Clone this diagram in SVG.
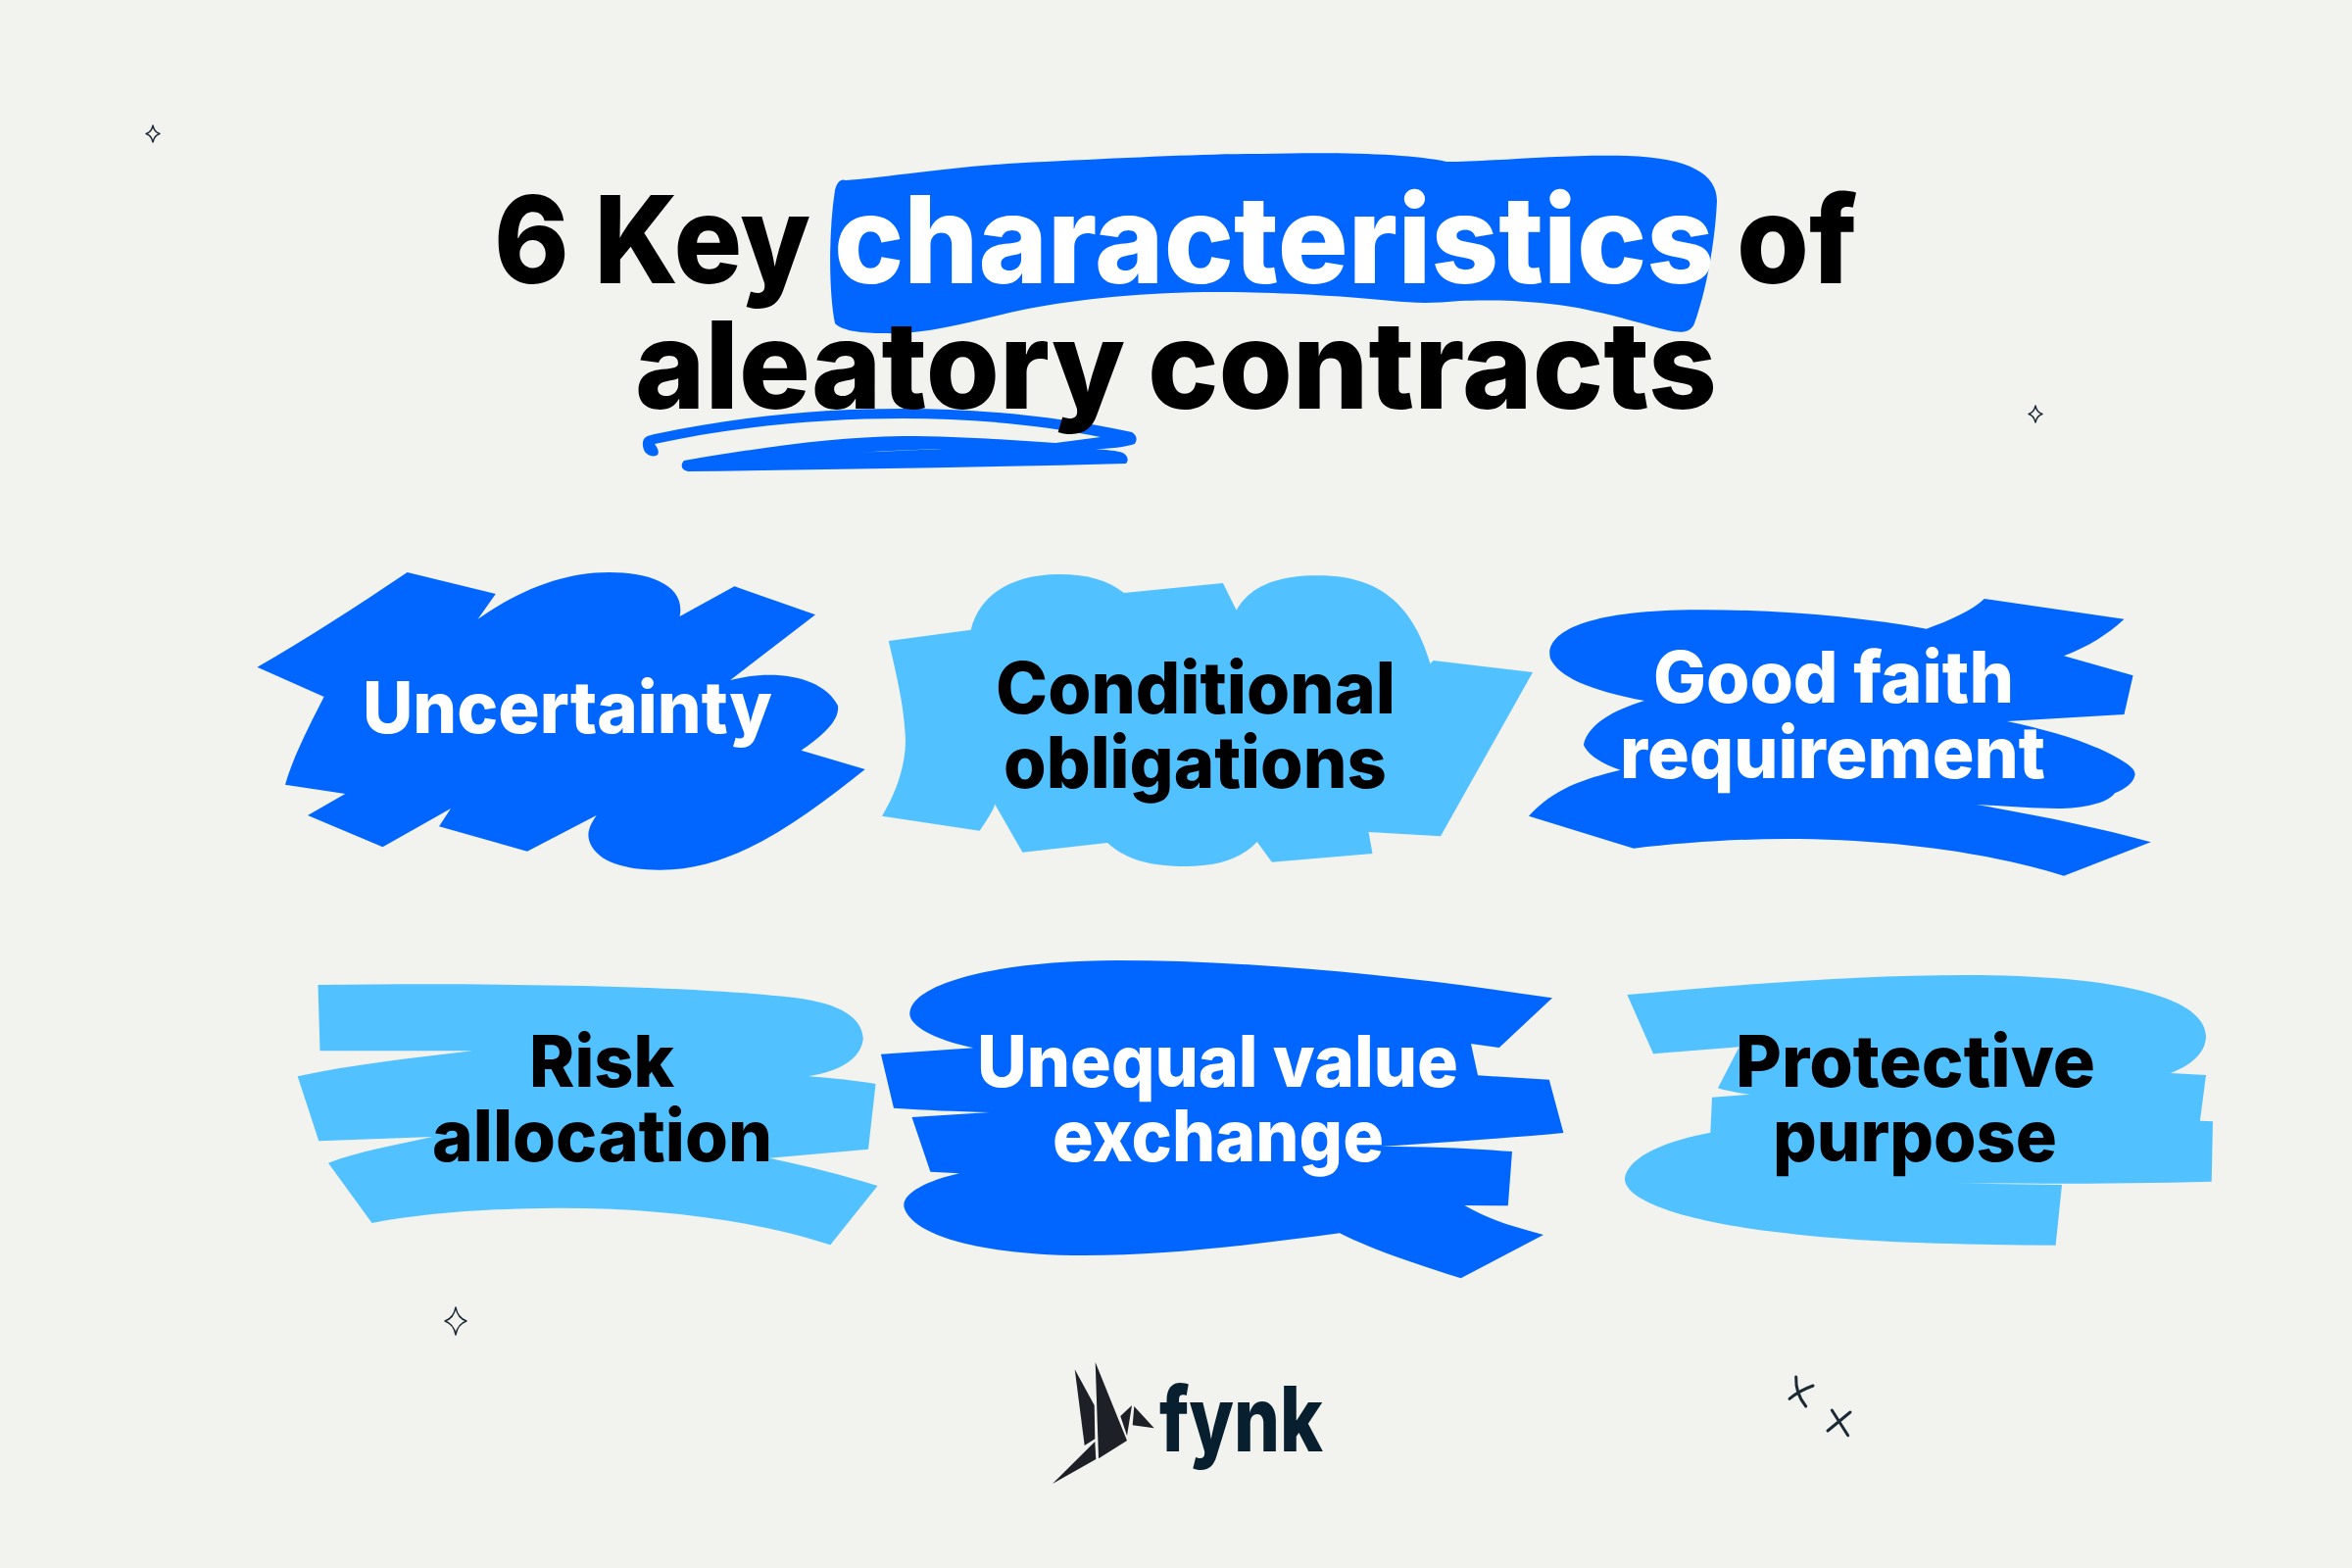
<svg xmlns="http://www.w3.org/2000/svg" width="2400" height="1600" viewBox="0 0 2400 1600">
<style>
.b{fill:#0066ff}.l{fill:#52c1ff}
text{font-family:"Inter","Liberation Sans",sans-serif;font-weight:800}
.t{font-size:124px;fill:#000}
.w{font-size:73px;fill:#fff}.k{font-size:73px;fill:#000}
.s{fill:none;stroke:#1c2a36;stroke-width:1.4;stroke-linejoin:round}
.x{fill:none;stroke:#1c2a36;stroke-width:3;stroke-linecap:round}
.bird{fill:#1d2027}
</style>
<rect width="2400" height="1600" fill="#f2f2ee"/>
<g id="decorations">
<path class="s" d="M156 128Q157.500 135 163 136.500Q157.500 138 156 145Q154.500 138 149 136.500Q154.500 135 156 128Z"/>
<path class="s" d="M2077 414Q2078.500 421 2084 422.500Q2078.500 424 2077 431Q2075.500 424 2070 422.500Q2075.500 421 2077 414Z"/>
<path class="s" d="M465 1334Q467 1345 476 1348Q467 1351 465 1362Q463 1351 454 1348Q463 1345 465 1334Z"/>
<path class="x" d="M1832.700 1405Q1832 1422 1842.700 1435M1826 1427.300Q1836 1419 1850 1414M1869.300 1439L1885.700 1464.700M1865 1460L1888 1441"/>
</g>
<g id="title">
<path id="title-highlight" class="b" d="M863 184C900 182 980 168 1067 165C1150 161 1230 157 1288 157C1370 155 1440 157 1476 165C1520 165 1600 157 1660 159C1725 161 1752 178 1752 205C1750 250 1740 300 1729 330C1725 340 1715 340 1702 337C1680 332 1650 322 1628 318C1590 308 1530 305 1490 307C1460 310 1440 309 1420 307C1370 302 1300 298 1242 298C1170 298 1100 305 1049 315C1000 325 950 342 902 340C880 340 860 338 852 330C846 300 845 240 852 194C854 186 858 182 863 184Z"/>
<path id="title-underline" class="b" fill-rule="evenodd" d="M668 443C760 424 840 417 921 417C1000 417 1080 425 1155 441C1160 444 1161 449 1157.700 453C1150 456 1130 458 1118 458C1130 459 1140 460 1145.700 462C1151 465 1152 470 1149 473C1000 477 850 479 702 481C695 480 694 474 698 470C780 456 850 446 921 445C980 445 1030 449 1077 452L1123 446C1060 433 990 427 921 427C840 427 750 435 668 453C671 457 673 461 671 464C667 467 661 465 658 461C655 455 655 449 659 446C662 444 665 444 668 443ZM875 461.700L962 458L920 459.500ZM1058 464L1081 463L1070 463.500Z"/>
<text class="t" x="504" y="289" textLength="323" lengthAdjust="spacingAndGlyphs">6 Key</text>
<text class="t" x="851" y="289" textLength="898" lengthAdjust="spacingAndGlyphs" style="fill:#fff">characteristics</text>
<text class="t" x="1772" y="289" textLength="123" lengthAdjust="spacingAndGlyphs">of</text>
<text class="t" x="648" y="417" textLength="500" lengthAdjust="spacingAndGlyphs">aleatory</text>
<text class="t" x="1171" y="417" textLength="581" lengthAdjust="spacingAndGlyphs">contracts</text>
</g>
<g id="node-uncertainty">
<path class="b" d="M415.600 584L505.800 606L487.600 631.700C530 602 575 584 621.600 584C665 584 700 598 693.600 629L749.500 598.300L832 627.300L745.200 694C790 682 840 690 855 720C857 735 840 750 817.600 765.700L882.700 785C820 835 750 888 673.600 887.700C640 888 610 880 602 860C598 850 602 842 608.600 832L538 868.700L448 843.300L460 825L390.500 864.300L314 832L352.300 810L291 800.700C300 770 315 742 330.600 711L262.500 680.700C310 654 365 618 415.600 584Z"/>
<text class="w" x="370" y="748" textLength="418" lengthAdjust="spacingAndGlyphs">Uncertainty</text>
</g>
<g id="node-conditional">
<path class="l" d="M906.800 654L990.700 642.700C1000 605 1035 586 1081 586C1110 586 1130 592 1147 605L1247.900 595L1261.700 622.700C1275 598 1305 587 1344.300 587.300C1400 587 1440 610 1459.500 677.300L1462.600 674L1564 686L1470 853.300L1396.500 849L1400.500 871L1297.900 879.700L1282.700 859C1265 878 1240 884 1210.400 884C1175 884 1150 878 1130 860L1043.400 869.700L1015.300 820.700C1012 830 1006 838 999.600 847.700L900 832.700C920 800 925 770 923.750 750C922 718 915 690 906.800 654Z"/>
<text class="k" x="1016" y="728" textLength="408" lengthAdjust="spacingAndGlyphs">Conditional</text>
<text class="k" x="1024" y="804" textLength="391" lengthAdjust="spacingAndGlyphs">obligations</text>
</g>
<g id="node-good-faith">
<path class="b" d="M2024.800 611L2167.500 631.700C2150 648 2130 660 2106 669.300L2176.600 689.300L2167.500 729L2048 736C2090 745 2130 756 2160 773C2172 780 2180 785 2178.300 791.700C2176 800 2168 805 2158 809.300C2150 820 2125 825 2099.400 825C2070 825 2040 822 2017 821C2080 832 2140 844 2194.800 859.300L2106 893.700C2030 870 1930 856 1821.900 856C1770 856 1715 860 1667 865.700L1560 832.700C1585 805 1615 795 1653.600 785.700C1635 780 1620 770 1615.900 760C1620 740 1645 725 1677.900 715C1620 704 1590 690 1582 672C1575 645 1620 622 1735 622.300C1820 622 1900 630 1965.800 641.700C1990 633 2012 623 2024.800 611Z"/>
<text class="w" x="1687" y="717" textLength="368" lengthAdjust="spacingAndGlyphs">Good faith</text>
<text class="w" x="1653" y="794" textLength="434" lengthAdjust="spacingAndGlyphs">requirement</text>
</g>
<g id="node-risk">
<path class="l" d="M324.500 1005C500 1003 700 1005 810.600 1018C860 1024 880 1040 880.800 1060C878 1080 860 1092 825 1098.300C850 1100 875 1103 893.500 1106L886 1172.700L785 1181.700C825 1190 860 1199 895.500 1210L847.300 1270.300C770 1245 670 1232 565.700 1232.700C500 1233 430 1238 379.600 1248L335 1186.700C365 1175 405 1168 441.200 1160L325.300 1164.300L303.700 1098.300C360 1086 420 1080 482 1072.300L326.500 1072.300Z"/>
<text class="k" x="540" y="1109" textLength="148" lengthAdjust="spacingAndGlyphs">Risk</text>
<text class="k" x="441" y="1185" textLength="347" lengthAdjust="spacingAndGlyphs">allocation</text>
</g>
<g id="node-unequal">
<path class="b" d="M993.300 1069.300C950 1060 925 1045 928.600 1031.700C935 1000 1030 980 1139.600 980C1290 980 1450 998 1584 1018.300L1529.800 1069L1501 1065L1508 1097.300L1580.800 1101.700L1595.400 1156C1530 1162 1470 1166 1409.500 1170C1460 1170 1505 1172 1543 1175L1538.800 1230.300L1494.400 1230C1520 1245 1545 1252 1575 1260L1490.700 1304.300C1445 1290 1400 1275 1367 1258.300C1280 1270 1190 1281 1106.500 1281C1000 1281 930 1260 922.500 1231.700C920 1218 945 1205 979 1197.300L949.400 1195.700L930.500 1140L1009.800 1135C975 1134 945 1133 912 1130.700L898.900 1075.700Z"/>
<text class="w" x="997" y="1109" textLength="491" lengthAdjust="spacingAndGlyphs">Unequal value</text>
<text class="w" x="1074" y="1185" textLength="338" lengthAdjust="spacingAndGlyphs">exchange</text>
</g>
<g id="node-protective">
<path class="l" d="M1660.400 1015C1780 1004 1900 995 2007.300 995C2150 995 2251 1015 2251 1058.300C2250 1075 2236 1087 2214.700 1095L2251 1097L2244.900 1143.700L2258 1144.300L2256.700 1205.700C2170 1208 2080 1208 1987 1207.300L2104 1209L2097.600 1270.700C2000 1270 1900 1268 1820 1258C1720 1247 1656 1225 1658 1201.700C1662 1180 1700 1164 1745.300 1155.700L1747 1119.700L1786 1116.700C1772 1115 1762 1113 1753 1110.300L1774.700 1068.300L1687 1075.300Z"/>
<text class="k" x="1771" y="1109" textLength="367" lengthAdjust="spacingAndGlyphs">Protective</text>
<text class="k" x="1809" y="1185" textLength="290" lengthAdjust="spacingAndGlyphs">purpose</text>
</g>
<g id="logo">
<polygon class="bird" points="1096.700,1397.300 1116.700,1434 1117.300,1468.300 1106.700,1475"/>
<polygon class="bird" points="1117.700,1390 1150,1470 1121,1488.300"/>
<polygon class="bird" points="1117.300,1471 1118.300,1489 1074,1514"/>
<polygon class="bird" points="1155,1434 1150,1465 1143.300,1445"/>
<polygon class="bird" points="1157.300,1435 1177.700,1457.300 1155.700,1454.300"/>
<text x="1183" y="1481" font-size="92" fill="#071f2e" textLength="167" lengthAdjust="spacingAndGlyphs">fynk</text>
</g>
</svg>
